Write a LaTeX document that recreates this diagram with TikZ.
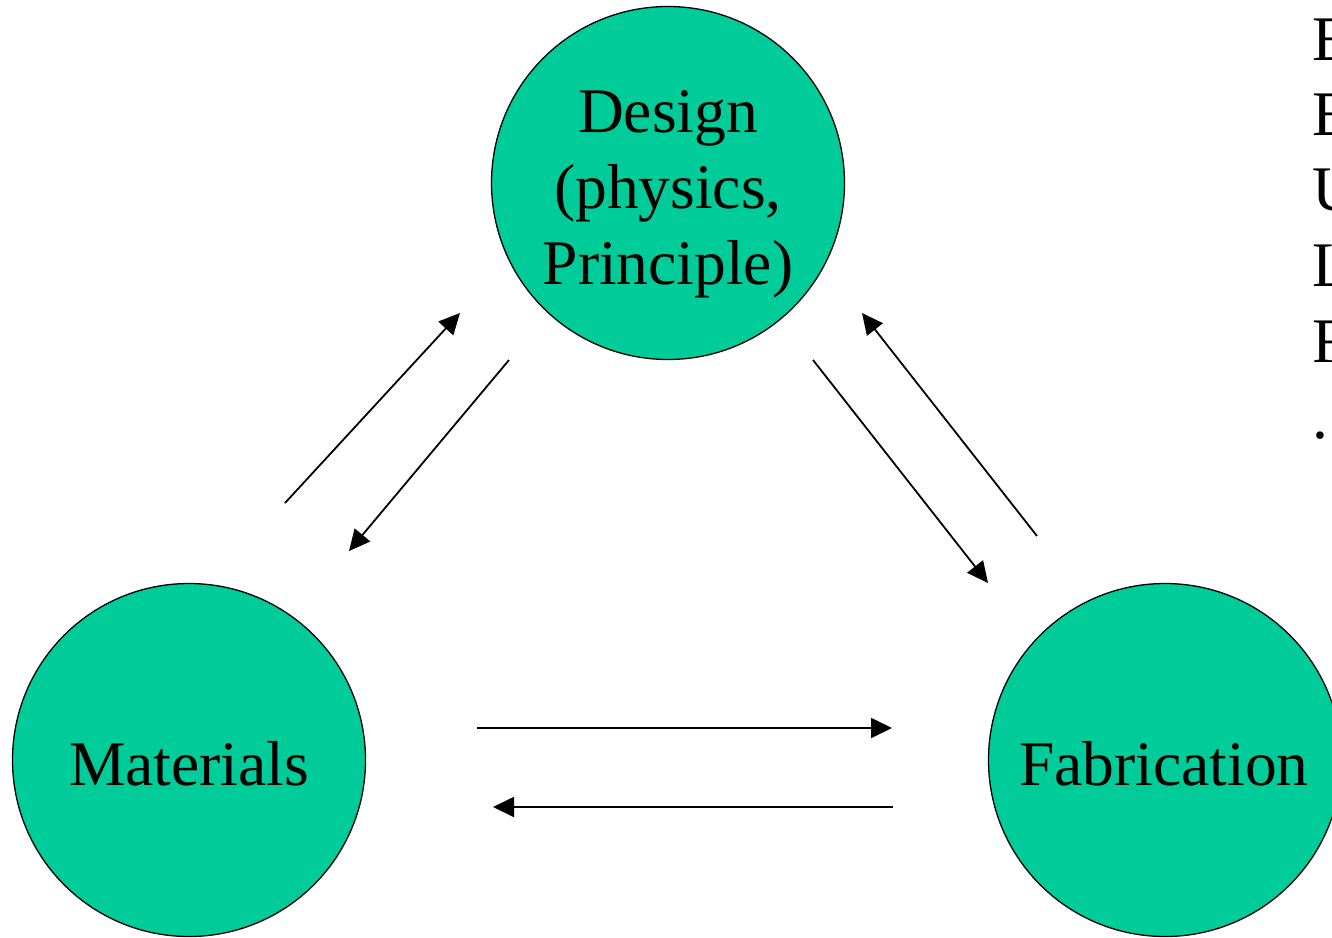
\documentclass[tikz,border=0pt]{standalone}
\usepackage{fontspec}
\setmainfont{Liberation Serif}
\usetikzlibrary{arrows.meta}
\definecolor{disc}{RGB}{0,204,153}
\begin{document}
\begin{tikzpicture}[x=1pt,y=-1pt,
  disk/.style={circle,draw=black,line width=1.3pt,fill=disc,minimum size=353pt,inner sep=0pt},
  lbl/.style={anchor=base,inner sep=0pt,font=\fontsize{63.5}{76}\selectfont},
  cut/.style={anchor=base west,inner sep=0pt,font=\fontsize{63.5}{76}\selectfont},
  link/.style={line width=1.8pt,-{Triangle[length=21pt,width=20pt]}}]
\clip (0,0) rectangle (1332,937);
\fill[white] (0,0) rectangle (1332,937);
% circles
\node[disk] (design) at (668,183) {};
\node[disk] (materials) at (189,760) {};
\node[disk] (fabrication) at (1165,760) {};
% labels
\node[lbl] (d1) at (668,132) {Design};
\node[lbl] (d2) at (668,208) {(physics,};
\node[lbl] (d3) at (668,284) {Principle)};
\node[lbl] (mt) at (189,785) {Materials};
\node[lbl] (fb) at (1164,785) {Fabrication};
% truncated text at right edge
\node[cut] (r1) at (1312,60) {E};
\node[cut] (r2) at (1312,135) {E};
\node[cut] (r3) at (1312,210) {U};
\node[cut] (r4) at (1312,286) {L};
\node[cut] (r5) at (1312,362) {F};
\node[cut] (r6) at (1312,438) {.};
% arrow end points
\coordinate (a1s) at (285,503);  \coordinate (a1e) at (460,313);
\coordinate (a2s) at (509,360);  \coordinate (a2e) at (349,551);
\coordinate (a3s) at (813,360);  \coordinate (a3e) at (988,583);
\coordinate (a4s) at (1037,536); \coordinate (a4e) at (862,313);
\coordinate (a5s) at (477,728);  \coordinate (a5e) at (892,728);
\coordinate (a6s) at (893,807);  \coordinate (a6e) at (493,807);
\draw[link] (a1s) -- (a1e);
\draw[link] (a2s) -- (a2e);
\draw[link] (a3s) -- (a3e);
\draw[link] (a4s) -- (a4e);
\draw[link] (a5s) -- (a5e);
\draw[link] (a6s) -- (a6e);
\end{tikzpicture}
\end{document}
